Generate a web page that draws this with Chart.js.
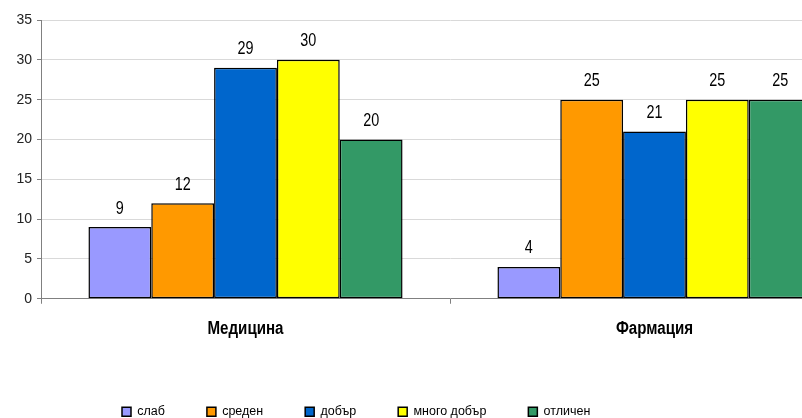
<!DOCTYPE html>
<html>
<head>
<meta charset="utf-8">
<script src="https://cdn.jsdelivr.net/npm/chart.js@4.4.1/dist/chart.umd.min.js"></script>
<style>
    html, body { margin: 0; padding: 0; background: #fff; overflow: hidden; }
    #wrap { width: 859px; height: 418px; position: relative; }
</style>
</head>
<body>
<div id="wrap"><canvas id="gradesChart"></canvas></div>
<script>
const categories = ['Медицина', 'Фармация'];
const seriesNames = ['слаб', 'среден', 'добър', 'много добър', 'отличен'];
const slab = [9, 4];
const sreden = [12, 25];
const dobar = [29, 21];
const mnogoDobar = [30, 25];
const otlichen = [20, 25];
const seriesColors = ['#9999FF', '#FF9900', '#0066CC', '#FFFF00', '#339966'];
const yMin = 0;
const yMax = 35;
const yStep = 5;

Chart.defaults.font.family = '"Liberation Sans", Arial, sans-serif';
Chart.defaults.color = '#000';

const seriesValues = [slab, sreden, dobar, mnogoDobar, otlichen];

// draws text squeezed horizontally (the original chart was stretched)
function narrowText(ctx, text, x, y, squeeze) {
    ctx.save();
    ctx.translate(x, y);
    ctx.scale(squeeze, 1);
    ctx.fillText(text, 0, 0);
    ctx.restore();
}

// numbers above each bar + category names under the axis
const barText = {
    id: 'barText',
    afterDatasetsDraw(chart) {
        const ctx = chart.ctx;
        ctx.save();
        ctx.fillStyle = '#000';
        ctx.textAlign = 'center';
        ctx.textBaseline = 'alphabetic';
        ctx.font = '18px "Liberation Sans", Arial, sans-serif';
        chart.data.datasets.forEach((ds, i) => {
            chart.getDatasetMeta(i).data.forEach((bar, j) => {
                narrowText(ctx, String(ds.data[j]), bar.x, bar.y - 13.5, 0.8);
            });
        });
        const xScale = chart.scales.x;
        ctx.font = 'bold 18px "Liberation Sans", Arial, sans-serif';
        categories.forEach((cat, i) => {
            narrowText(ctx, cat, xScale.getPixelForTick(i), chart.chartArea.bottom + 35.5, 0.84);
        });
        ctx.restore();
    }
};

// legend sits left of the canvas centre, like the original
const legendPlace = {
    id: 'legendPlace',
    afterLayout(chart) {
        chart.legend.left = 80;
    }
};

const ctx = document.getElementById('gradesChart').getContext('2d');
const chart = new Chart(ctx, {
    type: 'bar',
    data: {
        labels: categories,
        datasets: seriesNames.map((name, i) => ({
            label: name,
            data: seriesValues[i],
            backgroundColor: seriesColors[i],
            borderColor: '#000',
            borderWidth: 1.5,
            borderSkipped: false,
            barPercentage: 1,
            categoryPercentage: 0.768
        }))
    },
    options: {
        responsive: true,
        maintainAspectRatio: false,
        animation: false,
        layout: {
            padding: { top: 20, left: 0, right: 0, bottom: -10 }
        },
        scales: {
            x: {
                grid: {
                    drawOnChartArea: false,
                    offset: true,
                    tickLength: 5,
                    tickColor: '#808080'
                },
                border: { color: '#808080', width: 1 },
                ticks: { display: false },
                afterFit: function (scale) {
                    scale.height = 64.75;
                }
            },
            y: {
                min: yMin,
                max: yMax,
                ticks: {
                    stepSize: yStep,
                    padding: 5,
                    color: '#222',
                    font: { size: 14 }
                },
                grid: {
                    color: '#d9d9d9',
                    tickColor: '#808080',
                    tickLength: 4
                },
                border: { color: '#808080', width: 1 },
                afterFit: function (scale) {
                    scale.width = 41;
                }
            }
        },
        plugins: {
            legend: {
                position: 'bottom',
                align: 'start',
                labels: {
                    boxWidth: 9,
                    boxHeight: 9,
                    padding: 42,
                    color: '#000',
                    font: { size: 12.5 }
                }
            },
            tooltip: { enabled: false }
        }
    },
    plugins: [barText, legendPlace]
});
</script>
</body>
</html>
